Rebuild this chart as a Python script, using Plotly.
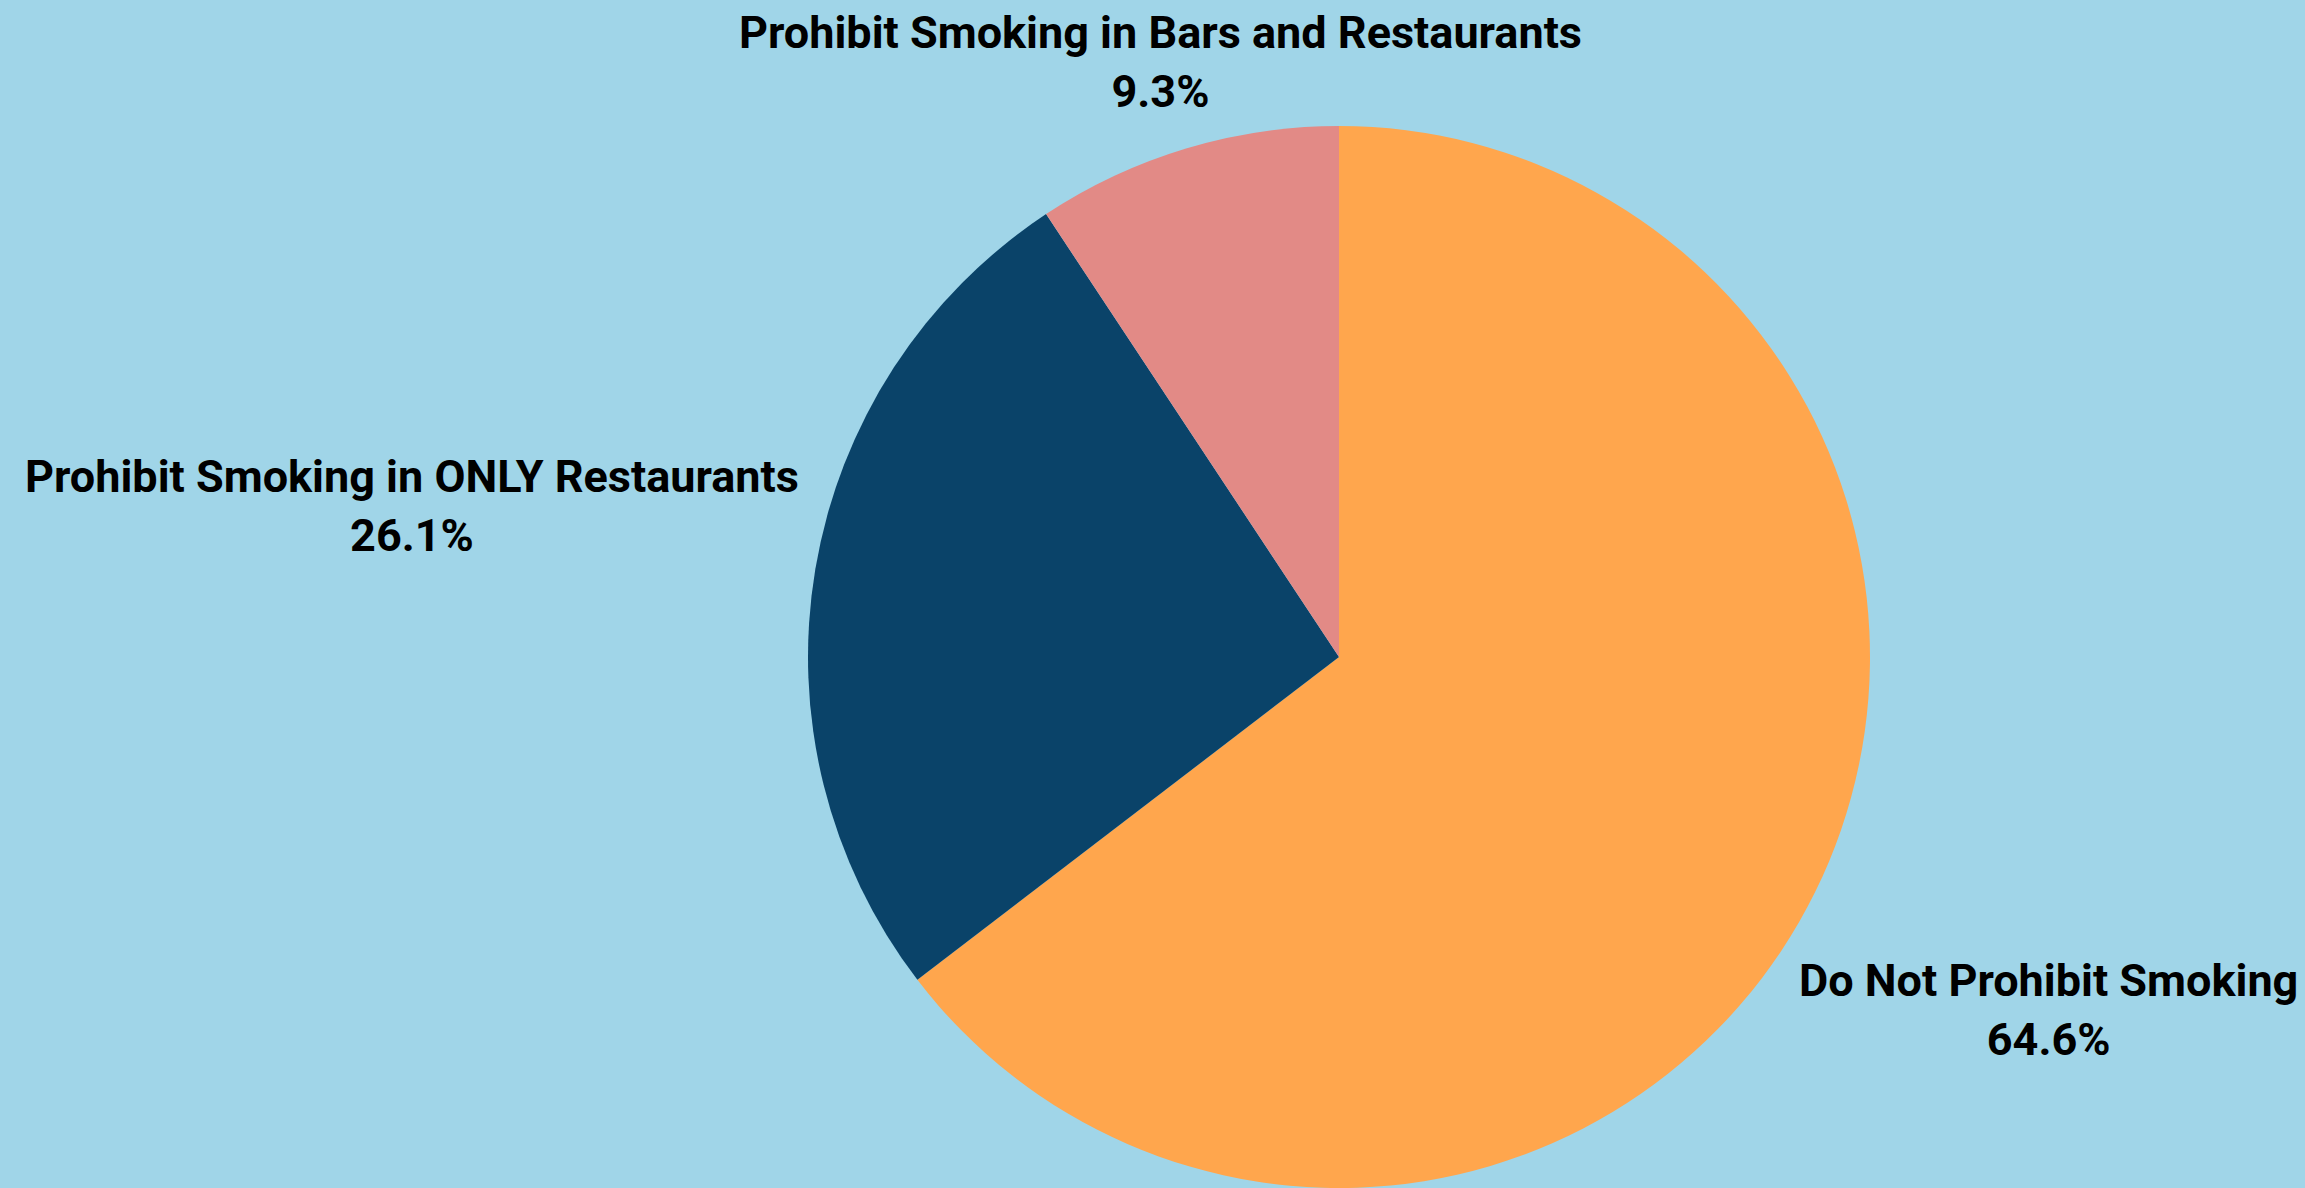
import plotly.graph_objects as go

labels = ["Do Not Prohibit Smoking", "Prohibit Smoking in ONLY Restaurants", "Prohibit Smoking in Bars and Restaurants"]
values = [64.6, 26.1, 9.3]
colors = ["#FFA64D", "#0A4369", "#E28A86"]

W, H = 2305, 1188
bg = "#A0D5E8"

fig = go.Figure(go.Pie(
    labels=labels, values=values, sort=False, direction="clockwise", rotation=0,
    marker=dict(colors=colors, line=dict(width=0)),
    textinfo="none", hoverinfo="label+percent", showlegend=False,
    domain=dict(x=[807 / W, 1871 / W], y=[0, 1 - 126 / H]),
))

# label anchor positions (pixels): centre x, block centre y
label_pos = [(2048, 1010), (412, 506), (1160, 62)]
for lab, val, (px, py) in zip(labels, values, label_pos):
    fig.add_annotation(
        x=px / W, y=1 - py / H, xref="paper", yref="paper",
        text=f"<b>{lab}</b><br><b>{val:.1f}%</b>", showarrow=False,
        font=dict(family="Roboto", size=45, color="#000000"),
        align="center", xanchor="center", yanchor="middle",
    )

fig.update_layout(
    width=W, height=H, margin=dict(l=0, r=0, t=0, b=0),
    paper_bgcolor=bg, plot_bgcolor=bg,
)
fig.write_html("out.html")
